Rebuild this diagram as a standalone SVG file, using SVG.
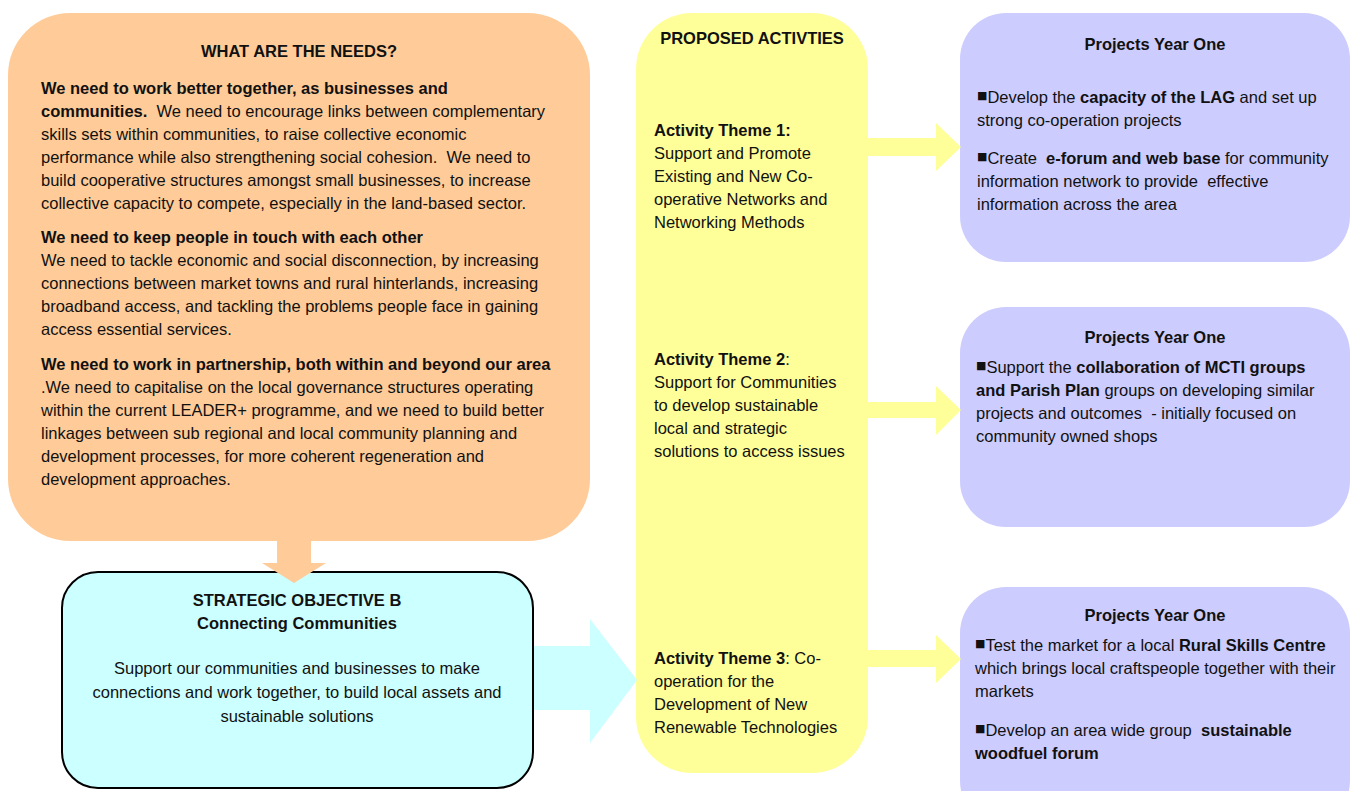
<svg xmlns="http://www.w3.org/2000/svg" width="1352" height="791" viewBox="0 0 1352 791">
<style>
text{font-family:"Liberation Sans Narrow","Arial Narrow","Liberation Sans",Arial,sans-serif;font-size:16.5px;fill:#111;}
.b{font-weight:bold;}
.c{text-anchor:middle;}
.bul{font-family:"DejaVu Sans",sans-serif;font-size:11px;}
</style>
<rect width="1352" height="791" fill="#fff"/>
<g id="needs">
  <rect x="8" y="13" width="582" height="528" rx="62" fill="#FFCC99"/>
  <text class="b c" x="299" y="57">WHAT ARE THE NEEDS?</text>
  <text x="41" y="94" class="b">We need to work better together, as businesses and</text>
  <text x="41" y="117"><tspan class="b">communities.</tspan>&#160; We need to encourage links between complementary</text>
  <text x="41" y="140">skills sets within communities, to raise collective economic</text>
  <text x="41" y="163">performance while also strengthening social cohesion.&#160; We need to</text>
  <text x="41" y="186">build cooperative structures amongst small businesses, to increase</text>
  <text x="41" y="209">collective capacity to compete, especially in the land-based sector.</text>
  <text x="41" y="243" class="b">We need to keep people in touch with each other</text>
  <text x="41" y="266">We need to tackle economic and social disconnection, by increasing</text>
  <text x="41" y="289">connections between market towns and rural hinterlands, increasing</text>
  <text x="41" y="312">broadband access, and tackling the problems people face in gaining</text>
  <text x="41" y="335">access essential services.</text>
  <text x="41" y="370" class="b">We need to work in partnership, both within and beyond our area</text>
  <text x="41" y="393">.We need to capitalise on the local governance structures operating</text>
  <text x="41" y="416">within the current LEADER+ programme, and we need to build better</text>
  <text x="41" y="439">linkages between sub regional and local community planning and</text>
  <text x="41" y="462">development processes, for more coherent regeneration and</text>
  <text x="41" y="485">development approaches.</text>
</g>
<g id="objective">
  <rect x="62" y="572" width="471" height="216" rx="36" fill="#CCFFFF" stroke="#000" stroke-width="2"/>
  <text class="b c" x="297" y="606">STRATEGIC OBJECTIVE B</text>
  <text class="b c" x="297" y="629">Connecting Communities</text>
  <text class="c" x="297" y="674">Support our communities and businesses to make</text>
  <text class="c" x="297" y="698">connections and work together, to build local assets and</text>
  <text class="c" x="297" y="722">sustainable solutions</text>
</g>
<g id="activities">
  <rect x="636" y="13" width="232" height="760" rx="56" fill="#FFFF99"/>
  <text class="b c" x="752" y="44">PROPOSED ACTIVTIES</text>
  <text x="654" y="136" class="b">Activity Theme 1:</text>
  <text x="654" y="159">Support and Promote</text>
  <text x="654" y="182">Existing and New Co-</text>
  <text x="654" y="205">operative Networks and</text>
  <text x="654" y="228">Networking Methods</text>
  <text x="654" y="365"><tspan class="b">Activity Theme 2</tspan>:</text>
  <text x="654" y="388">Support for Communities</text>
  <text x="654" y="411">to develop sustainable</text>
  <text x="654" y="434">local and strategic</text>
  <text x="654" y="457">solutions to access issues</text>
  <text x="654" y="664"><tspan class="b">Activity Theme 3</tspan>: Co-</text>
  <text x="654" y="687">operation for the</text>
  <text x="654" y="710">Development of New</text>
  <text x="654" y="733">Renewable Technologies</text>
</g>
<g id="projects1">
  <rect x="960" y="13" width="390" height="249" rx="46" fill="#CCCCFF"/>
  <text class="b c" x="1155" y="50">Projects Year One</text>
  <text x="977" y="103"><tspan class="bul" dy="-4">■</tspan><tspan dy="4">Develop the </tspan><tspan class="b">capacity of the LAG</tspan> and set up</text>
  <text x="977" y="126">strong co-operation projects</text>
  <text x="977" y="164"><tspan class="bul" dy="-4">■</tspan><tspan dy="4">Create&#160; </tspan><tspan class="b">e-forum and web base</tspan> for community</text>
  <text x="977" y="187">information network to provide&#160; effective</text>
  <text x="977" y="210">information across the area</text>
</g>
<g id="projects2">
  <rect x="960" y="307" width="390" height="220" rx="46" fill="#CCCCFF"/>
  <text class="b c" x="1155" y="343">Projects Year One</text>
  <text x="976" y="373"><tspan class="bul" dy="-4">■</tspan><tspan dy="4">Support the </tspan><tspan class="b">collaboration of MCTI groups</tspan></text>
  <text x="976" y="396"><tspan class="b">and Parish Plan</tspan> groups on developing similar</text>
  <text x="976" y="419">projects and outcomes&#160; - initially focused on</text>
  <text x="976" y="442">community owned shops</text>
</g>
<g id="projects3">
  <rect x="960" y="587" width="390" height="240" rx="46" fill="#CCCCFF"/>
  <text class="b c" x="1155" y="621">Projects Year One</text>
  <text x="975" y="651"><tspan class="bul" dy="-4">■</tspan><tspan dy="4">Test the market for a local </tspan><tspan class="b">Rural Skills Centre</tspan></text>
  <text x="975" y="674">which brings local craftspeople together with their</text>
  <text x="975" y="697">markets</text>
  <text x="975" y="736"><tspan class="bul" dy="-4">■</tspan><tspan dy="4">Develop an area wide group&#160; </tspan><tspan class="b">sustainable</tspan></text>
  <text x="975" y="759" class="b">woodfuel forum</text>
</g>
<g id="connectors">
  <polygon id="arrow-needs-objective" points="277,541 311,541 311,563 326,563 294,583 262,563 277,563" fill="#FFCC99"/>
  <polygon id="arrow-objective-activities" points="534,646 590,646 590,619 637,680 590,743 590,710 534,710" fill="#CCFFFF"/>
  <polygon id="arrow-theme1" points="868,138 936,138 936,123 961,147 936,171 936,156 868,156" fill="#FFFF99"/>
  <polygon id="arrow-theme2" points="868,402 936,402 936,386 961,410 936,435 936,418 868,418" fill="#FFFF99"/>
  <polygon id="arrow-theme3" points="868,650 936,650 936,635 961,659 936,683 936,667 868,667" fill="#FFFF99"/>
</g>
</svg>
